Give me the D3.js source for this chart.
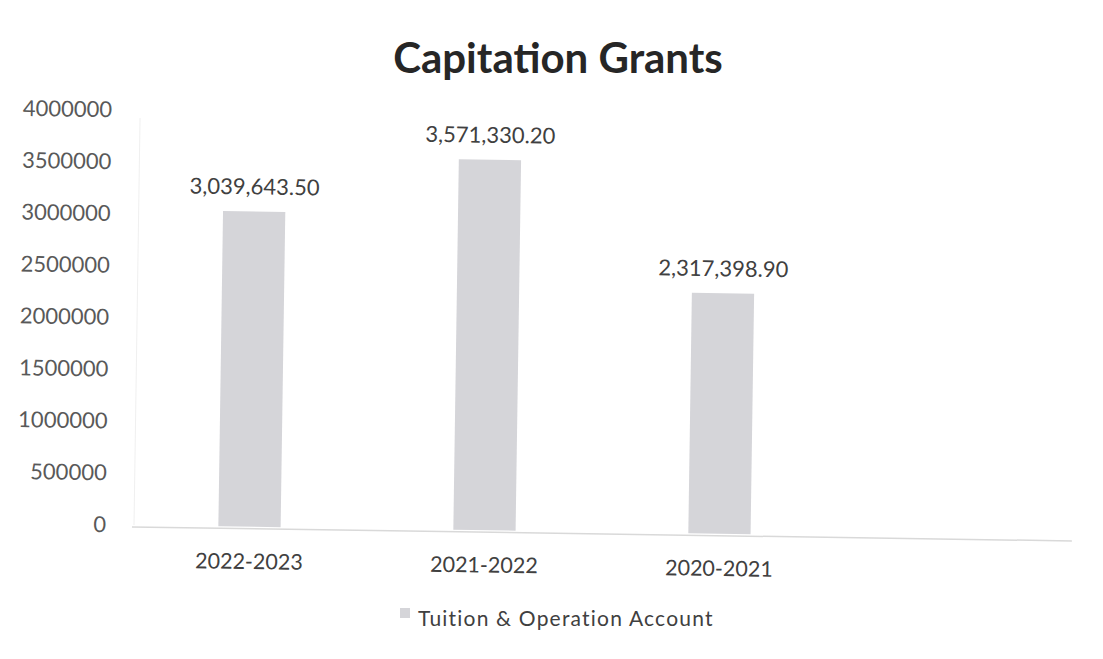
<!DOCTYPE html>
<html>
<head>
<meta charset="utf-8">
<script src="https://cdn.jsdelivr.net/npm/d3@7"></script>
<style>
  body { margin: 0; background: #fff; }
  svg text { font-family: Lato, "Open Sans", sans-serif; }
</style>
</head>
<body>
<div id="chart"></div>
<script>
// chart data
var categories = ['2022-2023', '2021-2022', '2020-2021', ''];
var values = [3039643.50, 3571330.20, 2317398.90, null];
var valueLabels = ['3,039,643.50', '3,571,330.20', '2,317,398.90', ''];
var yTicks = [0, 500000, 1000000, 1500000, 2000000, 2500000, 3000000, 3500000, 4000000];
var seriesName = 'Tuition & Operation Account';

var width = 1103, height = 659;
var margin = {left: 135, right: 28, top: 110, bottom: 134};

var svg = d3.select('#chart').append('svg')
  .attr('width', width)
  .attr('height', height);

svg.append('text')
  .attr('x', 558)
  .attr('y', 73)
  .attr('text-anchor', 'middle')
  .style('font-size', '42px')
  .style('font-weight', 'bold')
  .style('fill', '#262626')
  .text('Capitation Grants');

// the scanned original sits slightly tilted
var plot = svg.append('g')
  .attr('transform', 'translate(-3,0) rotate(0.85,135,525)');

var x = d3.scaleBand()
  .domain(categories)
  .range([margin.left, width - margin.right])
  .paddingInner(0.735)
  .paddingOuter(0.3675);

var y = d3.scaleLinear()
  .domain([0, 4000000])
  .range([height - margin.bottom, margin.top]);

// faint left border of plot area
plot.append('line')
  .attr('x1', margin.left + 2).attr('x2', margin.left + 2)
  .attr('y1', y(4000000) + 8).attr('y2', y(0))
  .style('stroke', '#f0f0f0');

var yAxis = plot.append('g')
  .attr('transform', 'translate(' + (margin.left - 23) + ',0)')
  .call(d3.axisLeft(y).tickValues(yTicks).tickSize(0).tickFormat(d3.format('d')));
yAxis.select('.domain').remove();
yAxis.selectAll('text')
  .style('font-size', '22px')
  .style('fill', '#595959');

plot.append('line')
  .attr('x1', margin.left).attr('x2', width - margin.right)
  .attr('y1', y(0) + 2).attr('y2', y(0) + 2)
  .style('stroke', '#d9d9d9')
  .style('stroke-width', 1.5);

var bars = plot.selectAll('.bar')
  .data(categories.map(function(c, i) { return {cat: c, value: values[i], label: valueLabels[i]}; })
    .filter(function(d) { return d.value != null; }))
  .enter().append('g').attr('class', 'bar');

bars.append('rect')
  .attr('x', function(d) { return x(d.cat); })
  .attr('y', function(d) { return y(d.value); })
  .attr('width', x.bandwidth())
  .attr('height', function(d) { return y(0) - y(d.value); })
  .style('fill', '#d5d5d9');

bars.append('text')
  .attr('x', function(d) { return x(d.cat) + x.bandwidth() / 2; })
  .attr('y', function(d) { return y(d.value) - 17; })
  .attr('text-anchor', 'middle')
  .style('font-size', '22px')
  .style('fill', '#404040')
  .text(function(d) { return d.label; });

var xAxis = plot.append('g')
  .attr('transform', 'translate(0,' + (y(0) + 24) + ')')
  .call(d3.axisBottom(x).tickSize(0));
xAxis.select('.domain').remove();
xAxis.selectAll('text')
  .style('font-size', '21.5px')
  .style('fill', '#404040');

var legend = svg.append('g').attr('transform', 'translate(400,619)');
legend.append('rect')
  .attr('x', 0).attr('y', -11)
  .attr('width', 10).attr('height', 10)
  .style('fill', '#d5d5d9');
legend.append('text')
  .attr('x', 18).attr('y', 7)
  .style('font-size', '21px')
  .style('letter-spacing', '1.2px')
  .style('fill', '#404040')
  .text(seriesName);
</script>
</body>
</html>
